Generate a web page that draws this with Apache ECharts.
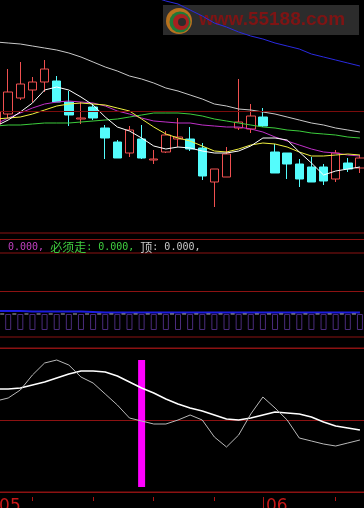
<!DOCTYPE html>
<html><head><meta charset="utf-8">
<script src="https://cdn.jsdelivr.net/npm/echarts@6/dist/echarts.min.js"></script>
<style>html,body{margin:0;padding:0;background:#000;}#c{width:364px;height:508px;}</style>
</head><body><div id="c"></div>
<script>
// ---- data ----
const dates = ['05-02','05-03','05-06','05-07','05-08','05-09','05-10','05-13','05-14','05-15','05-16','05-17','05-20','05-21','05-22','05-23','05-24','05-27','05-28','05-29','05-30','05-31',
               '06-03','06-04','06-05','06-06','06-07','06-10','06-11','06-12','06-13'];
// [open, close, low, high]
const candles = [
 [10.9,12.1,10.7,12.5],[11.9,14.1,11.5,16.4],[13.5,14.9,13.3,17.1],[14.3,15.1,13.1,15.6],[15.1,16.4,14.1,17.3],
 [15.2,13.1,13.1,15.7],[13.1,11.8,10.7,14.2],[11.4,11.5,10.9,13.1],[12.6,11.5,11.3,12.9],[10.5,9.5,7.4,10.8],
 [9.1,7.5,7.5,9.3],[8.0,10.3,7.6,10.7],[9.4,7.5,7.4,10.8],[7.3,7.4,6.9,8.3],[8.1,9.8,8.0,10.2],
 [9.4,9.6,8.6,11.5],[9.4,8.4,8.2,10.6],[8.5,5.7,5.3,9.0],[5.1,6.4,2.6,6.4],[5.6,7.9,5.6,8.6],
 [10.5,11.1,10.3,15.4],[10.4,11.7,10.0,12.9],[11.6,10.7,10.6,12.5],[8.1,6.0,6.0,8.9],[8.0,6.9,5.4,8.0],
 [6.9,5.4,4.6,7.4],[6.6,5.1,5.1,7.6],[6.6,5.2,4.8,6.9],[5.4,8.0,5.1,8.3],[7.0,6.4,6.1,7.5],[6.5,7.5,6.0,7.8]
];
const ma5   = [10.7,11.3,12.1,13.0,14.3,14.6,14.3,13.6,12.8,11.6,10.6,10.2,9.5,8.7,8.4,8.6,8.5,8.2,8.0,8.0,8.2,8.7,9.5,9.5,9.3,8.1,7.0,5.8,6.2,6.4,6.6];
const ma10  = [11.4,11.5,11.6,11.9,12.3,12.7,12.9,13.0,12.9,12.8,12.5,12.2,11.4,10.6,9.9,9.5,9.2,8.7,8.2,8.1,8.4,8.8,9.0,8.9,8.6,8.1,7.7,7.7,7.8,7.9,7.8];
const ma20  = [10.9,11.5,12.0,12.5,12.9,13.1,13.2,13.1,13.0,12.7,12.2,11.9,11.5,11.2,11.1,11.0,11.0,10.8,10.7,10.6,10.6,10.4,10.1,9.6,9.2,8.8,8.4,8.1,8.0,7.8,7.7];
const ma30  = [10.7,10.8,10.8,10.9,11.0,11.0,11.0,11.1,11.2,11.3,11.4,11.6,11.8,12.0,12.0,12.0,11.9,11.7,11.4,11.2,11.0,10.8,10.6,10.5,10.3,10.2,10.0,9.9,9.8,9.6,9.5];
const ma60  = [19.1,19.0,18.9,18.7,18.5,18.3,18.0,17.6,17.1,16.6,16.2,15.7,15.4,15.0,14.5,14.2,13.8,13.4,12.9,12.7,12.4,12.3,12.1,11.9,11.6,11.3,11.0,10.8,10.5,10.3,10.1];
const ma120 = [29.3,28.8,28.3,27.8,27.3,26.8,26.4,26.0,25.6,25.2,24.8,24.4,24.0,23.6,23.2,22.9,22.3,21.7,21.0,20.6,20.1,19.7,19.4,19.0,18.7,18.4,17.9,17.6,17.3,17.0,16.7];
const refPrice = [12.2];
const stickVals = [16,16,16,16,16,16,16,16,16,16,16,16,16,16,16,16,16,16,16,16,16,16,16,16,16,16,16,16,16,16,16];
const stickCaps = [16,16,16,16,16,16,16,16,16,16,16,16,16,16,16,16,16,16,16,16,16,16,16,16,16,16,16,16,16,16,16];
const blueLine  = [19,19,19,18.5,18.5,18.5,18.5,18.5,18,17.5,17.5,17.5,17.5,17.5,17.5,17.5,17.5,17.5,17.5,17.5,17.5,17.5,17.5,17.5,17.5,17.5,17.5,17.5,17.5,17.5,17.5];
const midRef = [39];
const oscSlow = [31,31,32,35,38,42,46,49,49,48,44,38,32,27,21,16,12,9,5,1,0,2,5,8,7,6,3,-2,-6,-8,-10];
const oscFast = [19,22,30,45,57,60,55,43,37,26,15,2,-1,-4,-4,0,5,0,-17,-27,-15,6,23,12,0,-18,-21,-24,-26,-23,-20];
const signalTop    = [null,null,null,null,null,null,null,null,null,null,null,null,60,null,null,null,null,null,null,null,null,null,null,null,null,null,null,null,null,null,null];
const signalBottom = [null,null,null,null,null,null,null,null,null,null,null,null,-67,null,null,null,null,null,null,null,null,null,null,null,null,null,null,null,null,null,null];
const tickIdx = [3,8,13,18,28];
const headerNames  = ['', '必须走', '顶'];
const headerValues = ['0.000', '0.000', '0.000'];

// ---- chart ----
const RL = '#8c1212';
const chart = echarts.init(document.getElementById('c'), null, {width:364, height:508});
const monthStart = (i) => i === 0 || dates[i].slice(0,2) !== dates[i-1].slice(0,2);
const hidden = {axisLine:{show:false}, axisTick:{show:false}, axisLabel:{show:false}, splitLine:{show:false}};
const headerText = '{m|' + headerValues[0] + ',} {gc|' + headerNames[1] + '}{g|: ' + headerValues[1] + ',} {wc|' + headerNames[2] + '}{w|: ' + headerValues[2] + ',}';
const maLine = (data, color) => ({type:'line', xAxisIndex:0, yAxisIndex:0, data, symbol:'none', z:4,
  lineStyle:{color, width:1}, silent:true});
const gridBase = {left:-10, width:376, show:true, borderColor:RL, borderWidth:1, backgroundColor:'transparent',
  outerBoundsMode:'none', containLabel:false};

chart.setOption({
  backgroundColor:'#000',
  animation:false,
  title:{left:3, top:236, text:headerText, textStyle:{fontFamily:'DejaVu Sans Mono', fontSize:10, color:'#ccc', fontWeight:'normal',
    rich:{
      m:{color:'#c040c0', fontFamily:'DejaVu Sans Mono', fontSize:10},
      g:{color:'#40d040', fontFamily:'DejaVu Sans Mono', fontSize:10},
      gc:{color:'#40d040', fontFamily:'Noto Sans CJK SC', fontSize:12},
      w:{color:'#c8c8c8', fontFamily:'DejaVu Sans Mono', fontSize:10},
      wc:{color:'#c8c8c8', fontFamily:'Noto Sans CJK SC', fontSize:12}
    }}},
  graphic:[
    {type:'rect', z:0, shape:{x:163, y:5, width:196, height:30}, style:{fill:'#2c2c2c'}},
    {type:'circle', z:0, shape:{cx:179, cy:21, r:13}, style:{fill:'#b8721e'}},
    {type:'circle', z:0, shape:{cx:180, cy:22, r:10.5}, style:{fill:'#1f7a38'}},
    {type:'circle', z:0, shape:{cx:181, cy:22, r:8}, style:{fill:'#a82020'}},
    {type:'circle', z:0, shape:{cx:182, cy:22, r:4}, style:{fill:'#2c2c2c'}},
    {type:'text', z:0, x:199, y:10, style:{text:'www.55188.com', fill:'#7e1414', font:'bold 19px "Liberation Sans"'}}
  ],
  grid:[
    Object.assign({top:-1, height:234}, gridBase),
    Object.assign({top:253, height:84}, gridBase),
    Object.assign({top:348, height:144}, gridBase)
  ],
  xAxis:[
    {type:'category', gridIndex:0, data:dates, position:'bottom', offset:6,
      axisLine:{show:true, onZero:false, lineStyle:{color:RL}}, axisTick:{show:false}, axisLabel:{show:false}, splitLine:{show:false}},
    Object.assign({type:'category', gridIndex:1, data:dates}, hidden),
    {type:'category', gridIndex:2, data:dates, position:'bottom', offset:5,
      axisLine:{show:false, onZero:false}, splitLine:{show:false}, axisLabel:{show:false},
      axisTick:{show:true, alignWithLabel:true, interval:(i)=>tickIdx.includes(i), length:4, lineStyle:{color:'#b01414'}}},
    {type:'category', gridIndex:2, data:dates, position:'bottom', offset:5,
      axisLine:{show:false, onZero:false}, splitLine:{show:false},
      axisTick:{show:true, alignWithLabel:true, interval:monthStart, length:12, lineStyle:{color:'#b01414'}},
      axisLabel:{show:true, interval:monthStart, formatter:(v)=>v.slice(0,2), align:'left', verticalAlign:'top', margin:1, padding:[0,0,0,3],
        color:'#c81818', fontSize:17, fontFamily:'DejaVu Sans'}}
  ],
  yAxis:[
    Object.assign({type:'value', gridIndex:0, min:0, max:23.4, scale:false}, hidden),
    Object.assign({type:'value', gridIndex:1, min:-7, max:77}, hidden),
    {type:'value', gridIndex:2, min:-72, max:72, interval:72, axisLine:{show:false}, axisTick:{show:false}, axisLabel:{show:false},
      splitLine:{show:true, lineStyle:{color:RL, width:1}}}
  ],
  series:[
    {type:'candlestick', xAxisIndex:0, yAxisIndex:0, data:candles, barWidth:9, z:3, silent:true,
      itemStyle:{color:'#000', color0:'#54fcfc', borderColor:'#f05050', borderColor0:'#54fcfc', borderWidth:1},
      markLine:{silent:true, symbol:'none', label:{show:false}, lineStyle:{color:'#7a0c0c', width:1, type:'solid'},
        data:refPrice.map(v=>({yAxis:v}))}},
    maLine(ma60,'#c8c8c8'),
    maLine(ma120,'#2a2ae0'),
    maLine(ma30,'#3ccc3c'),
    maLine(ma20,'#c030c8'),
    maLine(ma10,'#f0f040'),
    maLine(ma5,'#ffffff'),
    {type:'bar', xAxisIndex:1, yAxisIndex:1, data:stickVals, barWidth:6, silent:true,
      itemStyle:{color:'transparent', borderColor:'#4a2c7c', borderWidth:1}},
    {type:'scatter', xAxisIndex:1, yAxisIndex:1, data:stickCaps, symbol:'rect', symbolSize:[4,1], symbolOffset:[-6,0], silent:true, z:5,
      itemStyle:{color:'#d8d8e8'}},
    {type:'line', xAxisIndex:1, yAxisIndex:1, data:blueLine, symbol:'none', silent:true, z:4, lineStyle:{color:'#1c1ce0', width:2},
      markLine:{silent:true, symbol:'none', label:{show:false}, lineStyle:{color:RL, width:1, type:'solid'},
        data:midRef.map(v=>({yAxis:v}))}},
    {type:'line', xAxisIndex:2, yAxisIndex:2, data:oscSlow, symbol:'none', silent:true, lineStyle:{color:'#ffffff', width:1.5}},
    {type:'line', xAxisIndex:2, yAxisIndex:2, data:oscFast, symbol:'none', silent:true, lineStyle:{color:'#b8b8b8', width:1}},
    {type:'bar', xAxisIndex:2, yAxisIndex:2, data:signalTop, stack:'sig', barWidth:7, silent:true, itemStyle:{color:'#ff00ff'}},
    {type:'bar', xAxisIndex:2, yAxisIndex:2, data:signalBottom, stack:'sig', barWidth:7, silent:true, itemStyle:{color:'#ff00ff'}}
  ]
});
</script></body></html>
